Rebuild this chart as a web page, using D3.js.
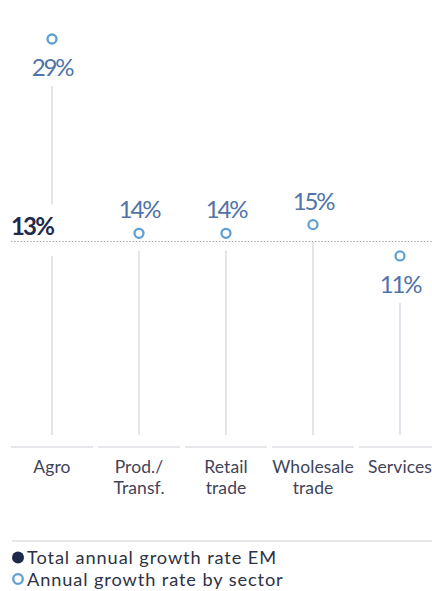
<!DOCTYPE html>
<html>
<head>
<meta charset="utf-8">
<script src="https://cdn.jsdelivr.net/npm/d3@7/dist/d3.min.js"></script>
<style>
  html, body { margin: 0; padding: 0; background: #ffffff; }
  svg { display: block; font-family: Lato, "Open Sans", sans-serif; }
</style>
</head>
<body>
<svg id="chart" width="432" height="591"></svg>
<script>
// Sector growth data
const categories = ["Agro", "Prod./Transf.", "Retail trade", "Wholesale trade", "Services"];
const categoryLines = [["Agro"], ["Prod./", "Transf."], ["Retail", "trade"], ["Wholesale", "trade"], ["Services"]];
const sectorGrowth = [29, 14, 14, 15, 11];
const totalGrowth = 13;
const legendLabels = ["Total annual growth rate EM", "Annual growth rate by sector"];

// Layout
const W = 432, H = 591;
const baseY = 435;      // bottom of stems
const axisY = 447;      // category separators
const totalY = 241.5;   // position of the total rate line
const topY = 39;        // position of the highest value

const colors = {
  navy: "#1e2a4c",
  dot: "#5f9fd3",
  valueText: "#5073a8",
  stem: "#dfe2e8",
  axisText: "#3f4458",
  dotted: "#9b9eab",
  rule: "#e5e7eb"
};

const svg = d3.select("#chart");

const x = d3.scaleBand()
  .domain(categories)
  .range([11, 441])
  .paddingInner(5 / 87)
  .paddingOuter(0);

const maxVal = d3.max(sectorGrowth);
const y = d3.scalePow().exponent(2)
  .domain([totalGrowth, maxVal])
  .range([totalY, topY]);

const cx = c => x(c) + x.bandwidth() / 2;
const data = categories.map((c, i) => ({
  cat: c, lines: categoryLines[i], v: sectorGrowth[i],
  below: sectorGrowth[i] < totalGrowth || sectorGrowth[i] === maxVal
}));

const r = 4.5;
const gap = 13;

// Stems: from under each mark (or its label) down to the base, broken around the total label
const totalLabelTop = totalY - 24;
const stems = [];
data.forEach(d => {
  const my = y(d.v);
  const start = d.below ? my + 37 + 10 : my + r + gap;
  if (start < totalLabelTop - gap) {
    stems.push({ x: cx(d.cat), y1: start, y2: totalLabelTop - gap });
    stems.push({ x: cx(d.cat), y1: totalY + 14.5, y2: baseY });
  } else {
    stems.push({ x: cx(d.cat), y1: start, y2: baseY });
  }
});
svg.append("g").selectAll("line").data(stems).join("line")
  .attr("x1", d => d.x).attr("x2", d => d.x)
  .attr("y1", d => d.y1).attr("y2", d => d.y2)
  .attr("stroke", colors.stem).attr("stroke-width", 1.8);

// Total rate dotted line
svg.append("line")
  .attr("x1", 11).attr("x2", W)
  .attr("y1", y(totalGrowth)).attr("y2", y(totalGrowth))
  .attr("stroke", colors.dotted).attr("stroke-width", 1.1)
  .attr("stroke-dasharray", "1.4,1.8");

svg.append("text")
  .attr("x", 11).attr("y", y(totalGrowth) - 6.5)
  .attr("fill", colors.navy)
  .attr("font-size", 24).attr("font-weight", 700)
  .attr("letter-spacing", -1.8)
  .text(totalGrowth + "%");

// Sector marks
svg.append("g").selectAll("circle").data(data).join("circle")
  .attr("cx", d => cx(d.cat)).attr("cy", d => y(d.v))
  .attr("r", r)
  .attr("fill", "#fff").attr("stroke", colors.dot).attr("stroke-width", 2.3);

svg.append("g").selectAll("text").data(data).join("text")
  .attr("x", d => cx(d.cat))
  .attr("y", d => d.below ? y(d.v) + 37 : y(d.v) - 15)
  .attr("text-anchor", "middle")
  .attr("fill", colors.valueText)
  .attr("font-size", 24).attr("font-weight", 400)
  .attr("letter-spacing", -2.2)
  .text(d => d.v + "%");

// Category separators and labels
const axis = svg.append("g");
axis.selectAll("line").data(categories).join("line")
  .attr("x1", c => x(c)).attr("x2", c => x(c) + x.bandwidth())
  .attr("y1", axisY).attr("y2", axisY)
  .attr("stroke", colors.rule).attr("stroke-width", 2);

axis.selectAll("text").data(data).join("text")
  .attr("x", d => cx(d.cat))
  .attr("y", 473)
  .attr("text-anchor", "middle")
  .attr("fill", colors.axisText)
  .attr("font-size", 17.5).attr("font-weight", 400)
  .attr("letter-spacing", 0.1)
  .selectAll("tspan").data(d => d.lines).join("tspan")
  .attr("x", function () { return d3.select(this.parentNode).attr("x"); })
  .attr("dy", (t, i) => i === 0 ? 0 : 21.2)
  .text(t => t);

// Legend
svg.append("line")
  .attr("x1", 12).attr("x2", W)
  .attr("y1", 541).attr("y2", 541)
  .attr("stroke", colors.rule).attr("stroke-width", 2);

const legend = svg.append("g");
legend.append("circle").attr("cx", 18).attr("cy", 557.5).attr("r", 6)
  .attr("fill", colors.navy);
legend.append("circle").attr("cx", 18).attr("cy", 579).attr("r", 4.8)
  .attr("fill", "#fff").attr("stroke", colors.dot).attr("stroke-width", 2.3);
legend.selectAll("text").data(legendLabels).join("text")
  .attr("x", 27).attr("y", (t, i) => 564 + i * 22)
  .attr("fill", "#2d3246")
  .attr("font-size", 18.2).attr("font-weight", 400)
  .attr("letter-spacing", 0.9)
  .text(t => t);
</script>
</body>
</html>
